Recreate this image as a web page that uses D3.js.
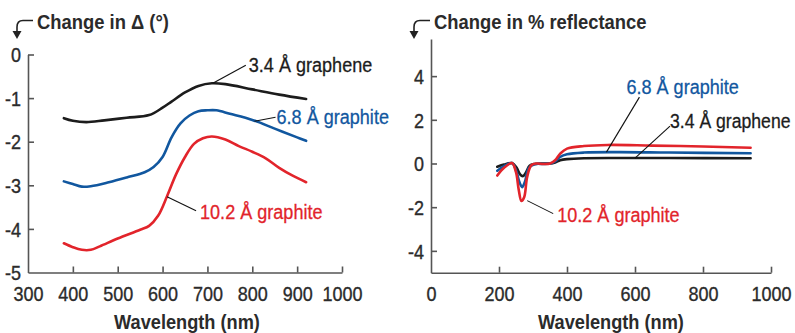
<!DOCTYPE html>
<html>
<head>
<meta charset="utf-8">
<script src="https://cdn.jsdelivr.net/npm/d3@7/dist/d3.min.js"></script>
<style>
  html, body { margin: 0; padding: 0; background: #fff; }
  svg text { font-family: "Liberation Sans", Arial, sans-serif; }
</style>
</head>
<body>
<svg id="chart" width="795" height="333"></svg>
<script>
// ---- Ellipsometry panel: change in Δ (degrees) vs wavelength ----
const deltaWavelength = {
  graphene34: [380, 400, 430, 470, 520, 570, 600, 620, 650, 680, 710, 740, 800, 860, 920],
  graphite68: [380, 400, 420, 440, 480, 520, 560, 580, 600, 620, 640, 660, 680, 700, 720, 750, 800, 850, 900, 920],
  graphite102: [380, 400, 420, 440, 460, 500, 550, 570, 590, 610, 630, 650, 670, 690, 710, 740, 770, 800, 830, 860, 890, 920]
};
const deltaGraphene34 = [-1.46, -1.52, -1.55, -1.51, -1.45, -1.39, -1.22, -1.08, -0.87, -0.72, -0.66, -0.68, -0.80, -0.92, -1.02];
const deltaGraphite68 = [-2.91, -2.97, -3.03, -3.02, -2.93, -2.82, -2.70, -2.58, -2.35, -1.90, -1.58, -1.40, -1.30, -1.28, -1.28, -1.36, -1.50, -1.70, -1.90, -1.98];
const deltaGraphite102 = [-4.33, -4.42, -4.48, -4.48, -4.40, -4.22, -4.02, -3.93, -3.70, -3.25, -2.75, -2.35, -2.05, -1.92, -1.88, -1.95, -2.10, -2.23, -2.38, -2.60, -2.78, -2.93];

// ---- Reflectance panel: change in % reflectance vs wavelength ----
const reflWavelength = {
  graphene34: [195, 215, 238, 252, 262, 270, 278, 290, 305, 330, 350, 365, 380, 400, 450, 550, 700, 940],
  graphite68: [195, 215, 238, 250, 260, 268, 276, 288, 305, 330, 350, 365, 380, 400, 450, 550, 700, 940],
  graphite102: [195, 215, 238, 250, 258, 266, 274, 283, 295, 310, 330, 350, 365, 380, 400, 450, 520, 650, 800, 940]
};
const reflGraphene34 = [-0.15, -0.05, 0.02, -0.2, -0.5, -0.58, -0.45, -0.1, -0.02, 0.0, 0.0, 0.05, 0.15, 0.2, 0.24, 0.25, 0.25, 0.24];
const reflGraphite68 = [-0.33, -0.12, 0.02, -0.3, -0.85, -1.08, -0.85, -0.2, -0.03, -0.02, 0.0, 0.1, 0.3, 0.42, 0.5, 0.52, 0.5, 0.47];
const reflGraphite102 = [-0.55, -0.2, 0.02, -0.4, -1.2, -1.72, -1.55, -0.6, -0.08, 0.0, -0.02, 0.0, 0.15, 0.45, 0.68, 0.8, 0.85, 0.82, 0.78, 0.72];

// ---- Axis ticks ----
const deltaXTicks = [300, 400, 500, 600, 700, 800, 900, 1000];
const deltaYTicks = [0, -1, -2, -3, -4, -5];
const reflXTicks = [0, 200, 400, 600, 800, 1000];
const reflYTicks = [4, 2, 0, -2, -4];

// ---- Series labels ----
const seriesNames = ["3.4 Å graphene", "6.8 Å graphite", "10.2 Å graphite"];
const colors = { graphene34: "#1c1c1c", graphite68: "#11579f", graphite102: "#e2242b" };

const svg = d3.select("#chart");
const axisColor = "#555";
const textColor = "#2b2b2b";

// Squeeze text horizontally (scaled about its own anchor) to get a condensed
// face from a regular one, with a hairline outline to thicken the strokes.
function condense(sel, k, weight) {
  sel.each(function () {
    const t = d3.select(this);
    const xv = +(this.getAttribute("x") || 0);
    t.attr("x", xv / k).attr("transform", `scale(${k},1)`);
    if (weight) t.attr("stroke", t.attr("fill")).attr("stroke-width", weight);
  });
}

function drawPanel(cfg) {
  const g = svg.append("g");
  const x = d3.scaleLinear().domain(cfg.xDomain).range(cfg.xRange);
  const y = d3.scaleLinear().domain(cfg.yDomain).range(cfg.yRange);

  // axes with inward ticks
  const xAxis = d3.axisBottom(x).tickValues(cfg.xTicks).tickFormat(d => String(d))
    .tickSizeInner(-6).tickSizeOuter(0).tickPadding(14);
  const yAxis = d3.axisLeft(y).tickValues(cfg.yTicks).tickFormat(d => String(d))
    .tickSizeInner(-6).tickSizeOuter(0).tickPadding(7);

  const gx = g.append("g").attr("transform", `translate(0,${cfg.yRange[0]})`).call(xAxis);
  const gy = g.append("g").attr("transform", `translate(${cfg.xRange[0]},0)`).call(yAxis);
  [gx, gy].forEach(a => {
    a.select(".domain").attr("stroke", axisColor).attr("stroke-width", 1.6);
    a.selectAll(".tick line").attr("stroke", axisColor).attr("stroke-width", 1.6);
    a.selectAll(".tick text").attr("fill", textColor).attr("font-size", 20)
      .attr("font-family", null);
  });
  gy.selectAll(".tick text").attr("dy", "0.36em");
  gx.selectAll(".tick text").attr("dy", "0.71em");
  condense(gx.selectAll(".tick text"), 0.9, 0.35);
  condense(gy.selectAll(".tick text"), 0.9, 0.35);
  // drop tick marks that sit on the other axis line
  gx.selectAll(".tick").filter(d => d === cfg.xDomain[0]).select("line").remove();
  gy.selectAll(".tick").filter(d => d === cfg.yDomain[0]).select("line").remove();

  // x axis title
  g.append("text")
    .attr("x", (cfg.xRange[0] + cfg.xRange[1]) / 2 + cfg.xTitleShift)
    .attr("y", 329)
    .attr("text-anchor", "middle")
    .attr("font-size", 20).attr("font-weight", "bold").attr("fill", textColor)
    .text("Wavelength (nm)")
    .call(condense, 0.91);

  // y title with hooked arrow
  g.append("text")
    .attr("x", cfg.titleX).attr("y", 29)
    .attr("font-size", 20).attr("font-weight", "bold").attr("fill", textColor)
    .text(cfg.title)
    .call(condense, 0.92);
  const ax = cfg.titleX - 4;
  const tipX = ax - 16;
  g.append("path")
    .attr("d", `M${ax},20.5 H${tipX + 6} Q${tipX},20.5 ${tipX},27 V32`)
    .attr("fill", "none").attr("stroke", "#222").attr("stroke-width", 1.6);
  g.append("path")
    .attr("d", `M${tipX - 4.5},31 L${tipX + 4.5},31 L${tipX},39 Z`)
    .attr("fill", "#222");

  // curves
  const line = d3.line().x(d => x(d[0])).y(d => y(d[1])).curve(d3.curveCatmullRom.alpha(0.5));
  cfg.series.forEach(s => {
    g.append("path")
      .datum(d3.zip(s.wl, s.vals))
      .attr("fill", "none")
      .attr("stroke", s.color)
      .attr("stroke-width", 2.6)
      .attr("stroke-linejoin", "round")
      .attr("stroke-linecap", "round")
      .attr("d", line);
  });

  // annotations: leader from a point on the curve to the label
  cfg.notes.forEach(n => {
    const px = x(n.at[0]), py = y(n.at[1]);
    g.append("line")
      .attr("x1", px).attr("y1", py)
      .attr("x2", px + n.dx).attr("y2", py + n.dy)
      .attr("stroke", "#111").attr("stroke-width", 1.1);
    g.append("text")
      .attr("x", px + n.dx + n.tx).attr("y", py + n.dy + n.ty)
      .attr("font-size", 21).attr("fill", n.color)
      .text(n.text)
      .call(condense, n.k || 0.86, 0.3);
  });
}

drawPanel({
  xDomain: [300, 1000], xRange: [28, 342],
  yDomain: [-5, 0], yRange: [272.5, 54.5],
  xTicks: deltaXTicks, yTicks: deltaYTicks,
  title: "Change in Δ (°)", titleX: 37, xTitleShift: 2,
  series: [
    { wl: deltaWavelength.graphene34, vals: deltaGraphene34, color: colors.graphene34 },
    { wl: deltaWavelength.graphite68, vals: deltaGraphite68, color: colors.graphite68 },
    { wl: deltaWavelength.graphite102, vals: deltaGraphite102, color: colors.graphite102 }
  ],
  notes: [
    { at: [712, -0.66], dx: 33, dy: -18, tx: 3, ty: 7, text: seriesNames[0], color: colors.graphene34 },
    { at: [805, -1.53], dx: 21, dy: -4, tx: 1, ty: 7, text: seriesNames[1], color: colors.graphite68 },
    { at: [610, -3.26], dx: 29, dy: 14, tx: 4, ty: 8, text: seriesNames[2], color: colors.graphite102 }
  ]
});

drawPanel({
  xDomain: [0, 1000], xRange: [431, 771],
  yDomain: [-5, 5.7], yRange: [272.7, 39],
  xTicks: reflXTicks, yTicks: reflYTicks,
  title: "Change in % reflectance", titleX: 434, xTitleShift: 10,
  series: [
    { wl: reflWavelength.graphene34, vals: reflGraphene34, color: colors.graphene34 },
    { wl: reflWavelength.graphite68, vals: reflGraphite68, color: colors.graphite68 },
    { wl: reflWavelength.graphite102, vals: reflGraphite102, color: colors.graphite102 }
  ],
  notes: [
    { at: [516, 0.52], dx: 33, dy: -55, tx: -13, ty: -3, text: seriesNames[1], color: colors.graphite68 },
    { at: [600, 0.25], dx: 35, dy: -32, tx: 0, ty: 2, k: 0.84, text: seriesNames[0], color: colors.graphene34 },
    { at: [283, -1.7], dx: 26, dy: 13, tx: 4, ty: 8, text: seriesNames[2], color: colors.graphite102 }
  ]
});
</script>
</body>
</html>
